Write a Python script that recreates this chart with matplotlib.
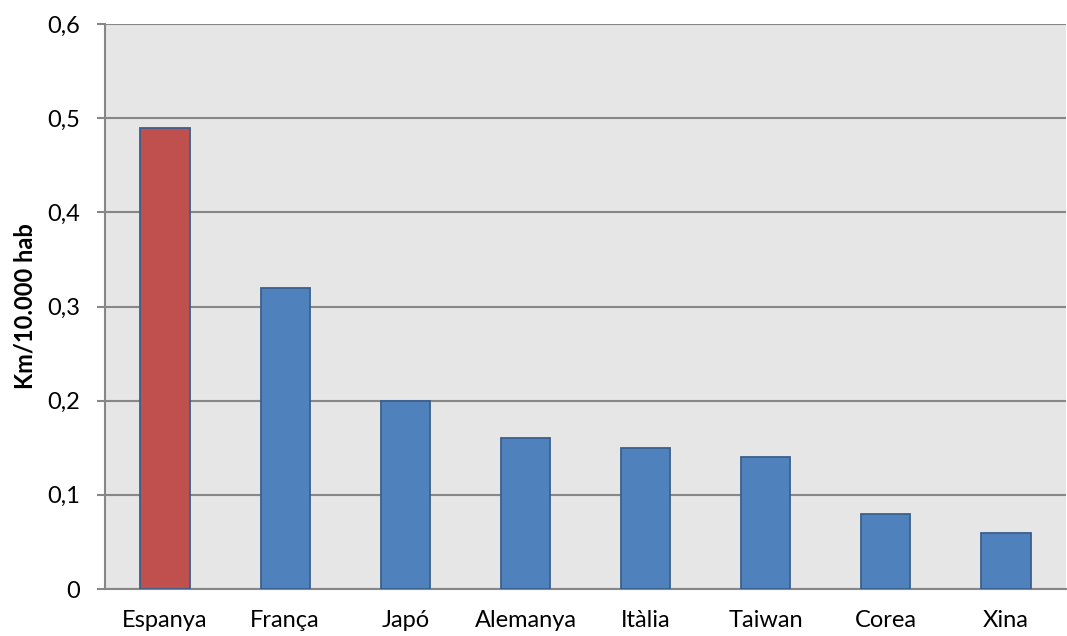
import matplotlib
matplotlib.use("Agg")
import matplotlib.pyplot as plt

countries = ["Espanya", "França", "Japó", "Alemanya", "Itàlia", "Taiwan", "Corea", "Xina"]
km_per_10k = [0.49, 0.32, 0.20, 0.16, 0.15, 0.14, 0.08, 0.06]
yticks = [0, 0.1, 0.2, 0.3, 0.4, 0.5, 0.6]
ytick_labels = ["0", "0,1", "0,2", "0,3", "0,4", "0,5", "0,6"]

plt.rcParams["font.family"] = ["Lato", "DejaVu Sans"]

W, H = 1067, 636
fig = plt.figure(figsize=(W / 100, H / 100), dpi=100)
ax = fig.add_axes([105 / W, 1 - 589 / H, 961 / W, 565 / H])
ax.set_facecolor("#e6e6e6")

colors = ["#c0504d"] + ["#4f81bd"] * (len(countries) - 1)
x = list(range(len(countries)))
ax.bar(x, km_per_10k, width=0.41, color=colors, edgecolor="#3a5f8d",
       linewidth=1.3, zorder=3)

ax.set_xlim(-0.5, len(countries) - 0.5)
ax.set_ylim(0, 0.6)
ax.set_yticks(yticks)
ax.set_yticklabels(ytick_labels, fontsize=17)
ax.set_xticks(x)
ax.set_xticklabels(countries, fontsize=17)
ax.tick_params(axis="x", length=0, pad=15)
ax.tick_params(axis="y", length=5.8, width=1.5, color="#878787", pad=12)

ax.yaxis.grid(True, color="#878787", linewidth=1.5, zorder=1)
ax.set_axisbelow(True)
for side in ["top", "right"]:
    ax.spines[side].set_visible(False)
for side in ["left", "bottom"]:
    ax.spines[side].set_color("#878787")
    ax.spines[side].set_linewidth(1.5)

fig.text(25 / W, 1 - 306 / H, "Km/10.000 hab", rotation=90, ha="center",
         va="center", fontsize=17, fontweight="bold")

fig.savefig("out.png", dpi=100)
